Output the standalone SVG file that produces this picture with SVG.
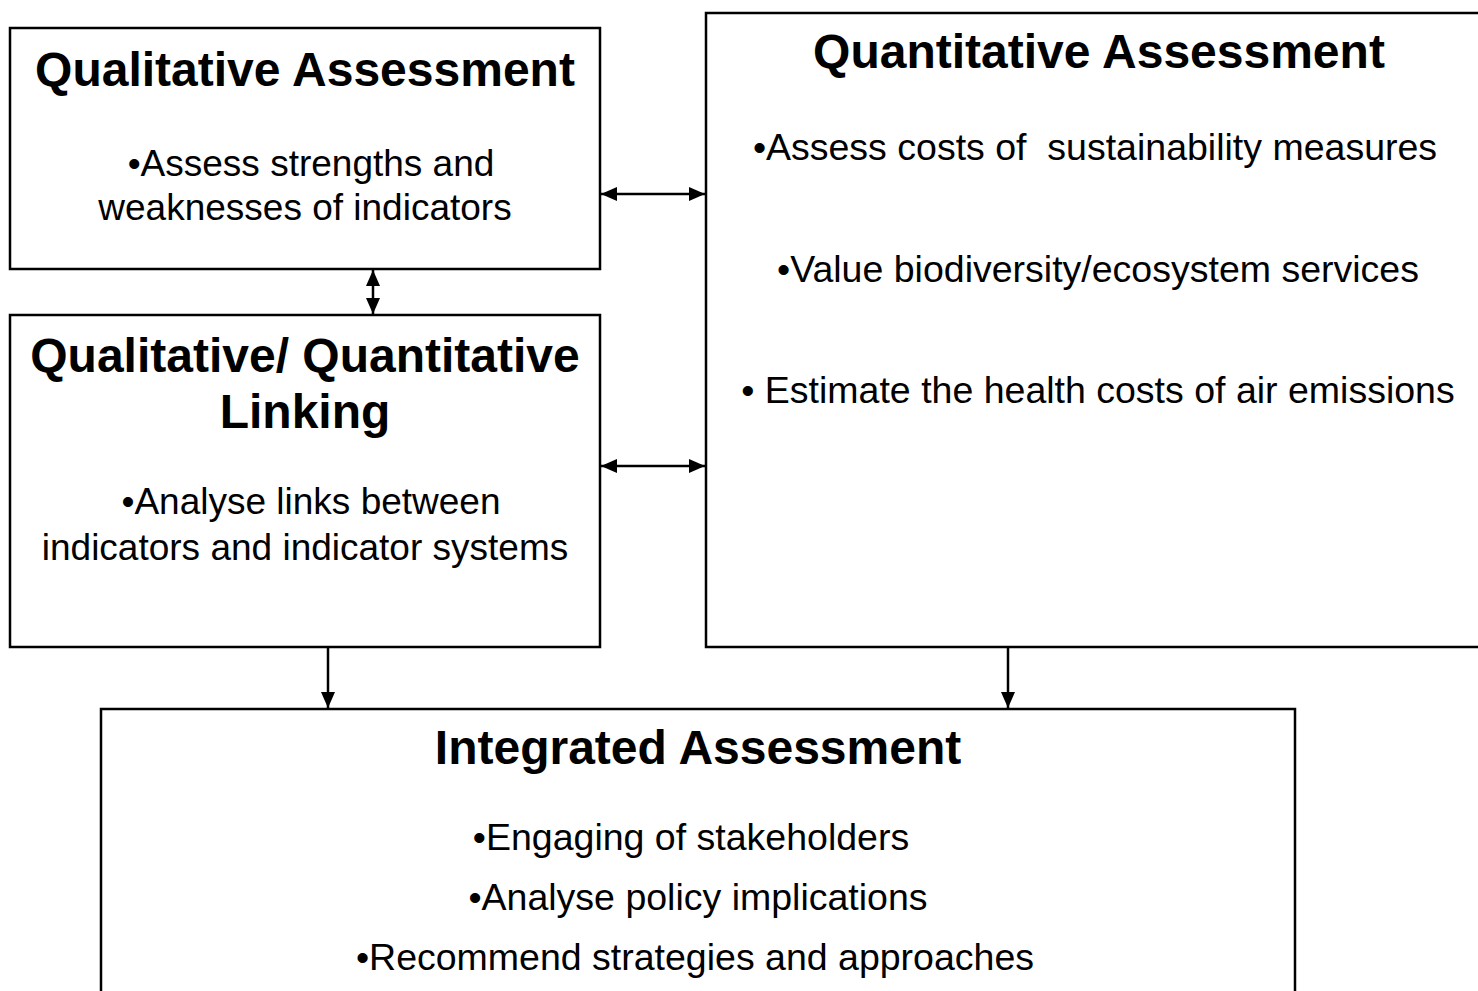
<svg xmlns="http://www.w3.org/2000/svg" width="1478" height="991" viewBox="0 0 1478 991">
<style>
.box{fill:#fff;stroke:#000;stroke-width:2.5}
.t{font-family:"Liberation Sans",Arial,sans-serif;font-weight:bold;font-size:48px;text-anchor:middle;fill:#000}
.b{font-family:"Liberation Sans",Arial,sans-serif;font-size:37.5px;text-anchor:middle;fill:#000}
.s{font-size:37px}
.c{stroke:#000;stroke-width:2.5;fill:none}
</style>
<defs>
<marker id="ahb" markerWidth="16" markerHeight="14" refX="16" refY="7" orient="auto-start-reverse" markerUnits="userSpaceOnUse" viewBox="0 0 16 14">
<path d="M0,0 L16,7 L0,14 Z" fill="#000"/>
</marker>
</defs>
<rect width="1478" height="991" fill="#fff"/>
<g id="qualitative">
<rect class="box" x="10" y="28" width="590" height="241"/>
<text class="t" x="305" y="86">Qualitative Assessment</text>
<text class="b s" x="311" y="176">•Assess strengths and</text>
<text class="b s" x="305" y="220">weaknesses of indicators</text>
</g>
<g id="linking">
<rect class="box" x="10" y="315" width="590" height="332"/>
<text class="t" x="305" y="372">Qualitative/ Quantitative</text>
<text class="t" x="305" y="428">Linking</text>
<text class="b s" x="311" y="514">•Analyse links between</text>
<text class="b s" x="305" y="560">indicators and indicator systems</text>
</g>
<g id="quantitative">
<rect class="box" x="706" y="13" width="780" height="634"/>
<text class="t" x="1099" y="68">Quantitative Assessment</text>
<text class="b" x="1095" y="160" xml:space="preserve">•Assess costs of  sustainability measures</text>
<text class="b" x="1098" y="282">•Value biodiversity/ecosystem services</text>
<text class="b" x="1098" y="403">• Estimate the health costs of air emissions</text>
</g>
<g id="integrated">
<rect class="box" x="101" y="709" width="1194" height="300"/>
<text class="t" x="698" y="764">Integrated Assessment</text>
<text class="b" x="691" y="850">•Engaging of stakeholders</text>
<text class="b" x="698" y="910">•Analyse policy implications</text>
<text class="b" x="695" y="970">•Recommend strategies and approaches</text>
</g>
<g id="connectors">
<line class="c" x1="601" y1="194" x2="705" y2="194" marker-start="url(#ahb)" marker-end="url(#ahb)"/>
<line class="c" x1="373" y1="270" x2="373" y2="314" marker-start="url(#ahb)" marker-end="url(#ahb)"/>
<line class="c" x1="601" y1="466" x2="705" y2="466" marker-start="url(#ahb)" marker-end="url(#ahb)"/>
<line class="c" x1="328" y1="648" x2="328" y2="708" marker-end="url(#ahb)"/>
<line class="c" x1="1008" y1="648" x2="1008" y2="708" marker-end="url(#ahb)"/>
</g>
</svg>
